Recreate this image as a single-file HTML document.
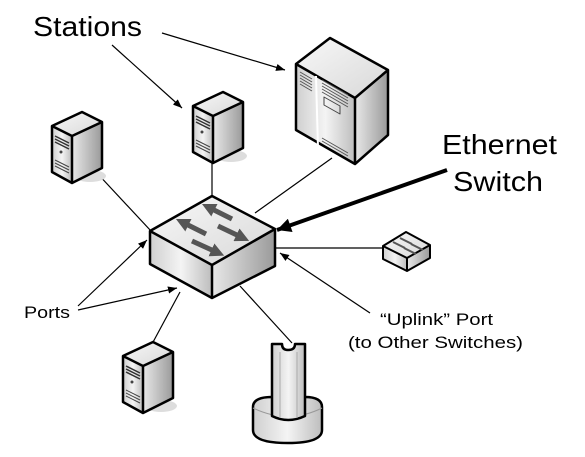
<!DOCTYPE html>
<html><head><meta charset="utf-8"><style>
html,body{margin:0;padding:0;background:#fff;width:585px;height:457px;overflow:hidden}
text{font-family:"Liberation Sans",sans-serif;fill:#000}
</style></head><body>
<svg width="585" height="457" viewBox="0 0 585 457" xmlns="http://www.w3.org/2000/svg">
<defs>
<marker id="ah" viewBox="0 0 10 10" refX="10" refY="5" markerWidth="9" markerHeight="9" markerUnits="userSpaceOnUse" orient="auto"><path d="M0,1 L10,5 L0,9 z" fill="#000"/></marker>
<marker id="ah2" viewBox="0 0 10 10" refX="10" refY="5" markerWidth="16" markerHeight="14" markerUnits="userSpaceOnUse" orient="auto"><path d="M0,0 L10,5 L0,10 z" fill="#000"/></marker>
<marker id="sa" viewBox="0 0 10 10" refX="2" refY="5" markerWidth="14" markerHeight="14" markerUnits="userSpaceOnUse" orient="auto"><path d="M0,0 L10,5 L0,10 z" fill="#555"/></marker>
<linearGradient id="gf" x1="0" x2="1"><stop offset="0" stop-color="#cfcfcf"/><stop offset="0.5" stop-color="#f4f4f4"/><stop offset="1" stop-color="#bdbdbd"/></linearGradient>
<linearGradient id="gr" x1="0" x2="1"><stop offset="0" stop-color="#e8e8e8"/><stop offset="1" stop-color="#9a9a9a"/></linearGradient>
<linearGradient id="gt" x1="0" y1="0" x2="1" y2="1"><stop offset="0" stop-color="#f8f8f8"/><stop offset="1" stop-color="#d8d8d8"/></linearGradient>
<g id="srv">
<ellipse cx="40" cy="64" rx="16" ry="6" fill="#ddd"/>
<path d="M2,14 L32,0 L52,10 L22,24 Z" fill="url(#gt)"/>
<path d="M2,14 L22,24 L22,71 L2,60 Z" fill="url(#gf)"/>
<path d="M22,24 L52,10 L52,56 L22,71 Z" fill="url(#gr)"/>
<path d="M2,14 L32,0 L52,10 L52,56 L22,71 L2,60 Z M22,24 L52,10 M2,14 L22,24 L22,71" fill="none" stroke="#000" stroke-width="2.5" stroke-linejoin="round"/>
<path d="M5,24 L19,31 M5,27 L19,34 M5,30 L19,37" stroke="#333" stroke-width="1.5"/>
<circle cx="11" cy="40" r="1.5" fill="#444"/>
<path d="M5,48 L19,55 M5,51 L19,58 M5,54 L19,61" stroke="#444" stroke-width="1"/>
</g>
</defs>

<g stroke="#000" stroke-width="1.2" fill="none">
<line x1="212" y1="162" x2="212" y2="196"/>
<line x1="332" y1="158" x2="255" y2="213"/>
<line x1="96" y1="172" x2="151" y2="231"/>
<line x1="275" y1="248" x2="383" y2="248"/>
<line x1="180" y1="292" x2="152" y2="344"/>
<line x1="240" y1="286" x2="292" y2="343"/>
<line x1="162" y1="33" x2="285" y2="70" marker-end="url(#ah)"/>
<line x1="112" y1="45" x2="182" y2="108" marker-end="url(#ah)"/>
<line x1="78" y1="306" x2="147" y2="240" marker-end="url(#ah)"/>
<line x1="78" y1="310" x2="177" y2="288" marker-end="url(#ah)"/>
<line x1="370" y1="313" x2="280" y2="253" marker-end="url(#ah)"/>
</g>
<line x1="447" y1="170" x2="277" y2="230" stroke="#000" stroke-width="4" marker-end="url(#ah2)"/>

<g stroke-linejoin="round">
<path d="M296,64 L330,38 L388,70 L355,98 Z" fill="url(#gt)"/>
<path d="M296,64 L355,98 L355,164 L296,130 Z" fill="url(#gf)"/>
<path d="M355,98 L388,70 L388,135 L355,164 Z" fill="url(#gr)"/>
<path d="M296,64 L330,38 L388,70 L388,135 L355,164 L296,130 Z M355,98 L388,70 M296,64 L355,98 L355,164" fill="none" stroke="#000" stroke-width="2.5"/>
<path d="M316,76 L318,148" stroke="#fff" stroke-width="2"/>
<path d="M300,72 L312,79 M300,75 L312,82 M300,78 L312,85 M300,81 L312,88 M300,84 L312,91 M322,80 L348,95 M322,83 L348,98 M322,86 L348,101 M322,89 L348,104 M322,92 L348,107 M322,138 L348,153 M322,141 L348,156" stroke="#555" stroke-width="1"/>
<path d="M324,97 L340,106 L340,114 L324,105 Z" fill="none" stroke="#444" stroke-width="1"/>
</g>

<use href="#srv" x="50" y="112"/>
<use href="#srv" x="191" y="92"/>
<use href="#srv" x="121" y="342"/>

<g stroke-linejoin="round">
<path d="M150,231 L212,196 L275,229 L212,265 Z" fill="url(#gt)"/>
<path d="M150,231 L212,265 L212,298 L150,264 Z" fill="url(#gf)"/>
<path d="M212,265 L275,229 L275,266 L212,298 Z" fill="url(#gr)"/>
<path d="M150,231 L212,196 L275,229 L275,266 L212,298 L150,264 Z M150,231 L212,265 L275,229 M212,265 L212,298" fill="none" stroke="#000" stroke-width="2.5"/>
<g stroke="#555" stroke-width="5" fill="none">
<line x1="232" y1="219" x2="212" y2="209" marker-end="url(#sa)"/>
<line x1="206" y1="234" x2="186" y2="224" marker-end="url(#sa)"/>
<line x1="218" y1="226" x2="239" y2="236" marker-end="url(#sa)"/>
<line x1="192" y1="241" x2="214" y2="251" marker-end="url(#sa)"/>
</g>
</g>

<g stroke-linejoin="round">
<path d="M383,246 L406,232 L430,245 L407,258 Z" fill="url(#gt)"/>
<path d="M383,246 L407,258 L407,271 L383,259 Z" fill="url(#gf)"/>
<path d="M407,258 L430,245 L430,258 L407,271 Z" fill="url(#gr)"/>
<path d="M383,246 L406,232 L430,245 L430,258 L407,271 L383,259 Z M383,246 L407,258 L430,245 M407,258 L407,271" fill="none" stroke="#000" stroke-width="2"/>
<path d="M400,238 L412,244 M393,242 L405,248 M404,248 L416,254 M411,244 L423,250" stroke="#555" stroke-width="2"/>
</g>

<g stroke-linejoin="round">
<path d="M253,407 Q253,397 272,397 L305,397 Q322,397 322,407 L322,430 Q322,443 288,443 Q253,443 253,430 Z" fill="url(#gf)" stroke="#000" stroke-width="2.5"/>
<path d="M253,408 Q288,425 322,408" fill="none" stroke="#999" stroke-width="1"/>
<path d="M272,344 L282,344 Q282,350 288,350 Q295,350 295,344 L305,344 L305,416 Q288,424 272,416 Z" fill="url(#gf)" stroke="#000" stroke-width="2.5"/>
<path d="M280,352 L280,418 M297,352 L297,418" stroke="#aaa" stroke-width="1"/>
</g>

<text x="33" y="36" font-size="28" textLength="109" lengthAdjust="spacingAndGlyphs">Stations</text>
<text x="442" y="154" font-size="28" textLength="115" lengthAdjust="spacingAndGlyphs">Ethernet</text>
<text x="453" y="191" font-size="28" textLength="90" lengthAdjust="spacingAndGlyphs">Switch</text>
<text x="24" y="318" font-size="17" textLength="46" lengthAdjust="spacingAndGlyphs">Ports</text>
<text x="380" y="325" font-size="17" textLength="113" lengthAdjust="spacingAndGlyphs">“Uplink” Port</text>
<text x="348" y="348" font-size="17" textLength="175" lengthAdjust="spacingAndGlyphs">(to Other Switches)</text>
</svg>
</body></html>
